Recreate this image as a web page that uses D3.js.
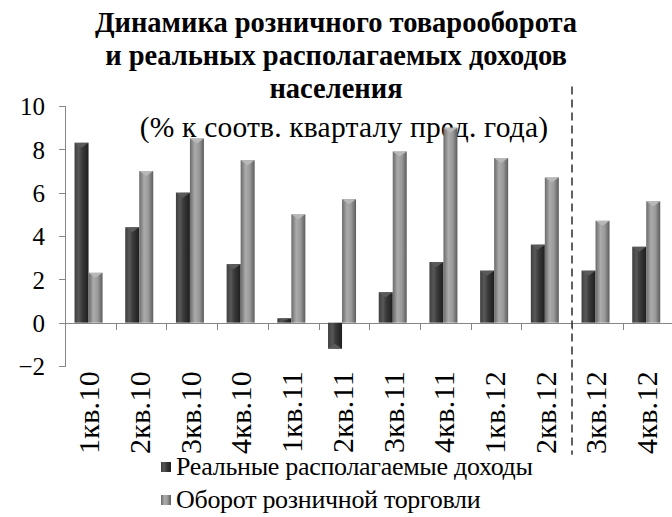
<!DOCTYPE html>
<html>
<head>
<meta charset="utf-8">
<script src="https://cdn.jsdelivr.net/npm/d3@7/dist/d3.min.js"></script>
<style>
  body { margin: 0; background: #fff; }
  .chart text { font-family: 'Liberation Serif', 'Times New Roman', serif; fill: #000; }
  .axis path, .axis line { stroke: #868686; shape-rendering: crispEdges; }
</style>
</head>
<body>
<div class="chart"></div>
<script>
var quarters = ["1кв.10", "2кв.10", "3кв.10", "4кв.10", "1кв.11", "2кв.11", "3кв.11", "4кв.11", "1кв.12", "2кв.12", "3кв.12", "4кв.12"];
var seriesNames = ["Реальные располагаемые доходы", "Оборот розничной торговли"];
var incomes = [8.3, 4.4, 6.0, 2.7, 0.2, -1.2, 1.4, 2.8, 2.4, 3.6, 2.4, 3.5];
var retail = [2.3, 7.0, 8.5, 7.5, 5.0, 5.7, 7.9, 9.0, 7.6, 6.7, 4.7, 5.6];
var yTicks = [-2, 0, 2, 4, 6, 8, 10];
var titleLines = ["Динамика розничного товарооборота", "и реальных располагаемых доходов", "населения"];
var subtitle = "(% к соотв. кварталу пред. года)";
var splitAfter = "2кв.12";

var Chart = (function() {
  var width = 672, height = 517;
  var left = 65, right = 673.4, top = 106, bottom = 366;
  var serif = "'Liberation Serif', 'Times New Roman', serif";

  function draw() {
    var svg = d3.select(".chart").append("svg")
      .attr("width", width)
      .attr("height", height);

    var defs = svg.append("defs");
    var grads = [
      { id: "g0", stops: [["0%", "#3e3e3e"], ["30%", "#585858"], ["55%", "#3a3a3a"], ["100%", "#1e1e1e"]] },
      { id: "g1", stops: [["0%", "#6a6a6a"], ["35%", "#ababab"], ["65%", "#9a9a9a"], ["100%", "#5c5c5c"]] }
    ];
    grads.forEach(function(g) {
      var lg = defs.append("linearGradient").attr("id", g.id)
        .attr("x1", "0%").attr("x2", "100%").attr("y1", "0%").attr("y2", "0%");
      g.stops.forEach(function(s) {
        lg.append("stop").attr("offset", s[0]).attr("stop-color", s[1]);
      });
    });
    var capColors = ["#5a5a5a", "#b8b8b8"];

    var data = quarters.map(function(q, i) {
      return { q: q, values: [incomes[i], retail[i]] };
    });

    var x = d3.scaleBand().domain(quarters).range([left, right]);
    var xEdge = d3.scaleLinear().domain([0, quarters.length]).range([left, right]);
    var xs = d3.scaleBand().domain([0, 1]).range([0, x.bandwidth()]).paddingOuter(0.81).align(0.42);
    var y = d3.scaleLinear().domain([-2, 10]).range([bottom, top]);

    // title
    var title = svg.append("g").attr("class", "title");
    title.selectAll("text.t")
      .data(titleLines)
      .enter().append("text")
        .attr("class", "t")
        .attr("x", 336)
        .attr("y", function(d, i) { return 32 + i * 33; })
        .attr("text-anchor", "middle")
        .style("font-weight", "bold")
        .style("font-size", "28.5px")
        .text(function(d) { return d; });
    title.append("text")
      .attr("x", 344)
      .attr("y", 137)
      .attr("text-anchor", "middle")
      .style("font-size", "29.5px")
      .style("letter-spacing", "0.2px")
      .text(subtitle);

    // axes
    var yAxis = svg.append("g")
      .attr("class", "y axis")
      .attr("transform", "translate(" + left + ",0)")
      .call(d3.axisLeft(y).tickValues(yTicks).tickSize(6).tickPadding(14).tickFormat(d3.format("d")));
    yAxis.attr("font-family", null).attr("font-size", null);
    yAxis.selectAll("text")
      .style("font-size", "25px")
      .style("font-family", serif)
      .attr("dy", "0.35em")
      .attr("fill", "#000");

    svg.append("g")
      .attr("class", "x axis")
      .attr("transform", "translate(0," + y(0) + ")")
      .call(d3.axisBottom(xEdge).tickValues(d3.range(1, quarters.length)).tickSize(7).tickSizeOuter(0).tickFormat(""));

    // bars
    var groups = svg.selectAll(".grp")
      .data(data)
      .enter().append("g")
        .attr("class", "grp")
        .attr("transform", function(d) { return "translate(" + x(d.q) + ",0)"; });

    var bars = groups.selectAll(".bar")
      .data(function(d) { return d.values.map(function(v, k) { return { k: k, v: v }; }); })
      .enter().append("g").attr("class", "bar");

    bars.append("rect")
      .attr("x", function(d) { return xs(d.k); })
      .attr("y", function(d) { return y(Math.max(0, d.v)); })
      .attr("width", xs.bandwidth())
      .attr("height", function(d) { return Math.abs(y(d.v) - y(0)); })
      .style("fill", function(d) { return "url(#g" + d.k + ")"; });

    bars.append("path")
      .attr("d", function(d) {
        var x0 = xs(d.k), x1 = x0 + xs.bandwidth(), xm = (x0 + x1) / 2;
        var yt = y(d.v), h = Math.min(5, Math.abs(y(d.v) - y(0)) / 2);
        var dir = d.v >= 0 ? 1 : -1;
        return "M" + x0 + "," + yt + "L" + x1 + "," + yt + "L" + xm + "," + (yt + dir * h) + "Z";
      })
      .style("fill", function(d) { return capColors[d.k]; });

    // x labels
    svg.selectAll(".xlabel")
      .data(quarters)
      .enter().append("text")
        .attr("class", "xlabel")
        .attr("transform", function(d) {
          return "translate(" + (x(d) + x.bandwidth() / 2 + 9) + "," + (bottom + 5) + ") rotate(-90)";
        })
        .attr("text-anchor", "end")
        .style("font-size", "30px")
        .style("letter-spacing", "0.3px")
        .text(function(d) { return d; });

    // dashed separator
    var sx = xEdge(quarters.indexOf(splitAfter) + 1);
    svg.append("line")
      .attr("x1", sx).attr("x2", sx)
      .attr("y1", y(10.9)).attr("y2", y(-6.1))
      .style("stroke", "#3a3a3a")
      .style("stroke-width", 1.6)
      .style("stroke-dasharray", "8,5");

    // legend
    var legend = svg.selectAll(".legend")
      .data(seriesNames)
      .enter().append("g")
        .attr("class", "legend")
        .attr("transform", function(d, i) { return "translate(161," + (467 + i * 33) + ")"; });
    legend.append("rect")
      .attr("x", 0).attr("y", -5)
      .attr("width", 10).attr("height", 10)
      .style("fill", function(d, i) { return "url(#g" + i + ")"; });
    legend.append("text")
      .attr("x", 15)
      .attr("y", 8)
      .style("font-size", "26px")
      .style("letter-spacing", "-0.3px")
      .text(function(d) { return d; });
  }

  return { draw: draw };
})();

Chart.draw();
</script>
</body>
</html>
